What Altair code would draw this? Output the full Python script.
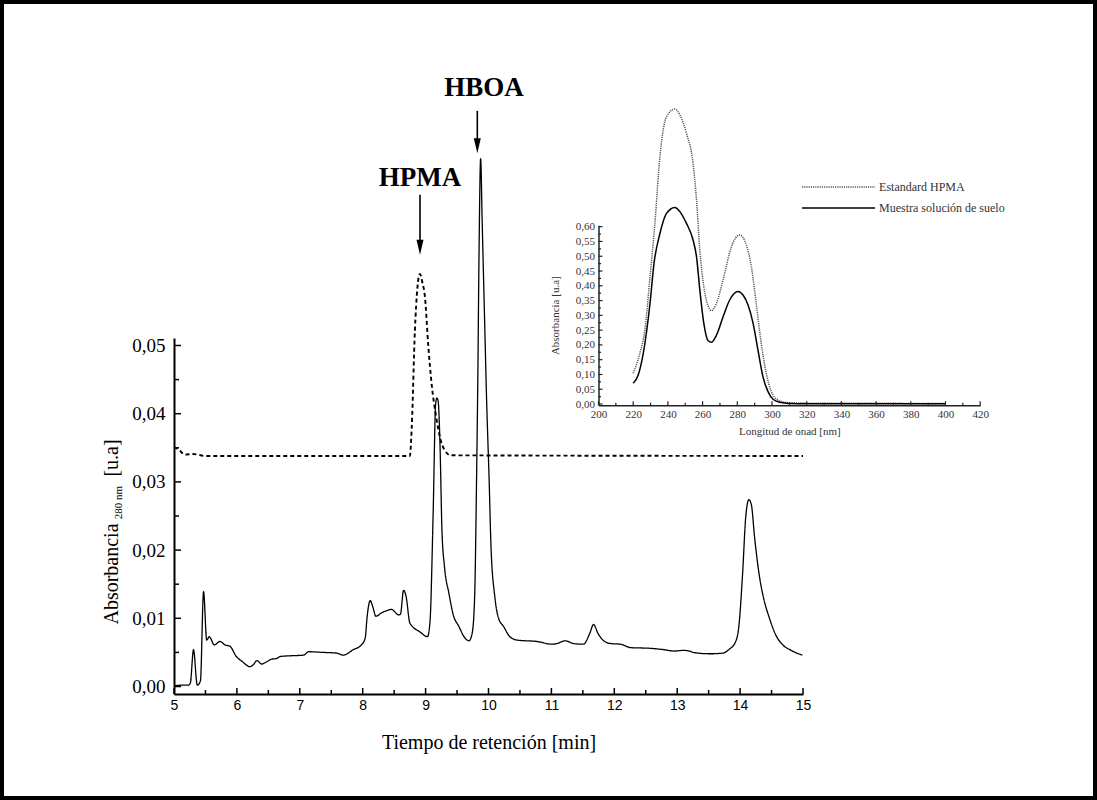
import altair as alt
import pandas as pd

# ---------------- main chromatogram (retention time [min], absorbance 280 nm) -------------
t_sample = [5.00, 5.15, 5.23, 5.26, 5.31, 5.37, 5.42, 5.47, 5.52, 5.56, 5.58, 5.64, 5.73, 5.81,
            5.89, 5.99, 6.08, 6.21, 6.26, 6.32, 6.39, 6.47, 6.55, 6.63, 6.69, 6.84, 7.06, 7.14,
            7.37, 7.59, 7.69, 7.85, 7.98, 8.04, 8.07, 8.12, 8.16, 8.21, 8.30, 8.35, 8.46, 8.57,
            8.60, 8.65, 8.69, 8.75, 8.91, 9.03, 9.07, 9.12, 9.16, 9.18, 9.20, 9.23, 9.26, 9.30,
            9.37, 9.44, 9.53, 9.61, 9.69, 9.74, 9.78, 9.81, 9.83, 9.85, 9.875, 9.90, 9.94, 9.97,
            10.01, 10.04, 10.10, 10.16, 10.24, 10.34, 10.46, 10.77, 11.01, 11.09, 11.22, 11.35,
            11.51, 11.61, 11.67, 11.74, 11.82, 11.94, 12.10, 12.26, 12.57, 12.79, 12.95, 13.11,
            13.32, 13.53, 13.73, 13.82, 13.93, 13.98, 14.04, 14.09, 14.14, 14.18, 14.23, 14.30,
            14.38, 14.46, 14.57, 14.68, 14.81, 14.99]
a_sample = [0.0001, 0.0002, 0.0002, 0.0005, 0.0054, 0.0002, 0.0008, 0.0139, 0.0068, 0.0073,
            0.0071, 0.0061, 0.0066, 0.0061, 0.0059, 0.0044, 0.0037, 0.0029, 0.0032, 0.0038,
            0.0033, 0.0036, 0.0040, 0.0041, 0.0044, 0.0045, 0.0046, 0.0051, 0.0050, 0.0049,
            0.0046, 0.0054, 0.0061, 0.0071, 0.0102, 0.0126, 0.0117, 0.0103, 0.0108, 0.0110,
            0.0113, 0.0105, 0.0106, 0.0141, 0.0132, 0.0093, 0.0080, 0.0073, 0.0095, 0.0254,
            0.0415, 0.0423, 0.0418, 0.0351, 0.0229, 0.0176, 0.0137, 0.0105, 0.0088, 0.0073,
            0.0067, 0.0078, 0.0132, 0.0303, 0.0450, 0.0640, 0.0774, 0.0680, 0.0530, 0.0420,
            0.0303, 0.0205, 0.0132, 0.0100, 0.0088, 0.0073, 0.0068, 0.0066, 0.0062, 0.0063,
            0.0067, 0.0063, 0.0062, 0.0078, 0.0091, 0.0078, 0.0068, 0.0063, 0.0062, 0.0057,
            0.0056, 0.0054, 0.0052, 0.0053, 0.0049, 0.0048, 0.0049, 0.0054, 0.0066, 0.0088,
            0.0166, 0.0249, 0.0274, 0.0266, 0.0219, 0.0166, 0.0127, 0.0102, 0.0075, 0.0061,
            0.0053, 0.0046]

t_std = [5.00, 5.08, 5.17, 5.30, 5.50, 8.75, 8.78, 8.83, 8.87, 8.91, 8.95, 8.99, 9.04, 9.10,
         9.16, 9.24, 9.30, 9.40, 15.00]
a_std = [0.0351, 0.0347, 0.0340, 0.0341, 0.0338, 0.0338, 0.0381, 0.0522, 0.0585, 0.0605,
         0.0592, 0.0571, 0.0503, 0.0440, 0.0400, 0.0361, 0.0347, 0.0339, 0.0338]

main_x_ticks = [5, 6, 7, 8, 9, 10, 11, 12, 13, 14, 15]
main_x_minor = [5.5, 6.5, 7.5, 8.5, 9.5, 10.5, 11.5, 12.5, 13.5, 14.5]
main_y_ticks = [0.0, 0.01, 0.02, 0.03, 0.04, 0.05]
main_y_minor = [0.005, 0.015, 0.025, 0.035, 0.045]

peak_names = ["HPMA", "HBOA"]
peak_label_t = [8.911, 9.93]
peak_label_a = [0.0746, 0.0878]
arrow_t = [8.911, 9.822]
arrow_top = [0.0721, 0.0844]
arrow_tip = [0.0633, 0.0782]
arrow_shaft_end = [0.0652, 0.0798]

# ---------------- inset: UV spectra (wavelength [nm], absorbance) ----------------
wl_std = [220, 223.8, 226.7, 229.7, 232.5, 235.4, 239.2, 244, 246.9, 250.7, 254.5, 256.5,
          258.4, 260.7, 263.8, 265.1, 268, 271.8, 276.6, 281.3, 285.2, 288.1, 290.9, 293.8,
          296.7, 299.6, 303.4, 308.2, 320, 340, 360, 380, 400]
ab_std = [0.104, 0.171, 0.250, 0.431, 0.611, 0.837, 0.972, 0.998, 0.978, 0.916, 0.814, 0.690,
          0.521, 0.397, 0.324, 0.316, 0.341, 0.420, 0.532, 0.572, 0.538, 0.465, 0.341, 0.205,
          0.104, 0.042, 0.014, 0.005, 0.003, 0.003, 0.003, 0.002, 0.002]
wl_sample = [220, 222.9, 225.8, 229.7, 232, 235.4, 239.2, 244, 246.9, 250.7, 254.5, 256.5,
             258.4, 260.7, 263.2, 265.1, 268, 271.8, 275.6, 280.4, 283.3, 286.2, 289.1, 291.9,
             294.8, 297.7, 300.6, 304.4, 310.2, 320, 340, 360, 380, 400]
ab_sample = [0.070, 0.098, 0.171, 0.341, 0.476, 0.577, 0.645, 0.665, 0.651, 0.611, 0.555, 0.498,
             0.386, 0.273, 0.214, 0.209, 0.233, 0.295, 0.352, 0.381, 0.369, 0.335, 0.273, 0.183,
             0.092, 0.042, 0.016, 0.006, 0.002, 0.001, 0.001, 0.001, 0.001, 0.001]

inset_x_ticks = [200, 220, 240, 260, 280, 300, 320, 340, 360, 380, 400, 420]
inset_x_minor = [210, 230, 250, 270, 290, 310, 330, 350, 370, 390, 410]
inset_y_ticks = [0.0, 0.05, 0.10, 0.15, 0.20, 0.25, 0.30, 0.35, 0.40, 0.45, 0.50, 0.55, 0.60]
inset_y_minor = [0.025, 0.075, 0.125, 0.175, 0.225, 0.275, 0.325, 0.375, 0.425, 0.475, 0.525, 0.575]

legend_names = ["Estandard HPMA", "Muestra solución de suelo"]
legend_y = [0.734, 0.663]
legend_x1 = 317.3
legend_x2 = 359.4
legend_text_x = 361.7

# ---------------- layout ----------------
W, H = 629, 356
PAD = {"left": 174, "top": 338, "right": 294, "bottom": 106}
SERIF = "Liberation Serif"
SANS = "Liberation Sans"
comma2 = "replace(format(datum.value, '.2f'), '.', ',')"


def MX():
    return alt.Scale(domain=[5, 15], nice=False, zero=False)


def MY():
    return alt.Scale(domain=[-0.0011, 0.0511], nice=False, zero=False)


# inset placed via its own scale ranges (pixels relative to main plot origin)
IX_R = [424.5, 806.2]
IY_R = [67.2, -112.8]


def IX():
    return alt.Scale(domain=[200, 420], range=IX_R, nice=False, zero=False)


def IY():
    return alt.Scale(domain=[-0.004, 0.605], range=IY_R, nice=False, zero=False)


df_main = pd.concat([
    pd.DataFrame({"t": t_sample, "a": a_sample, "s": "Muestra"}),
    pd.DataFrame({"t": t_std, "a": a_std, "s": "Estandard"}),
])

x_axis = alt.Axis(orient="bottom", values=main_x_ticks, ticks=False, grid=False, domainColor="black",
                  domainWidth=2, labelFont=SANS, labelFontSize=14, labelColor="black",
                  labelPadding=4, labelFlush=False, labelOverlap=False,
                  title="Tiempo de retención [min]", titleFont=SERIF, titleFontSize=20,
                  titleFontWeight="normal", titleColor="black", titlePadding=20)
y_axis = alt.Axis(orient="left", values=main_y_ticks, ticks=False, grid=False, domainColor="black",
                  domainWidth=2, labelFont=SERIF, labelFontSize=19, labelColor="black",
                  labelPadding=9, labelFlush=False, labelOverlap=False, labelExpr=comma2,
                  title=None)

lines = alt.Chart(df_main).mark_line(color="black", interpolate="monotone").encode(
    x=alt.X("t:Q", scale=MX(), axis=x_axis),
    y=alt.Y("a:Q", scale=MY(), axis=y_axis),
    detail="s:N",
    strokeDash=alt.StrokeDash("s:N", scale=alt.Scale(domain=["Muestra", "Estandard"],
                                                     range=[[1, 0], [4, 3]]), legend=None),
    strokeWidth=alt.StrokeWidth("s:N", scale=alt.Scale(domain=["Muestra", "Estandard"],
                                                       range=[1.3, 1.9]), legend=None),
)

mxt = alt.Chart(pd.DataFrame({"t": main_x_ticks})).mark_rule(color="black", strokeWidth=1.5).encode(
    x=alt.X("t:Q", scale=MX(), axis=None), y=alt.value(H), y2=alt.value(H - 6))
mxm = alt.Chart(pd.DataFrame({"t": main_x_minor})).mark_rule(color="black", strokeWidth=1.5).encode(
    x=alt.X("t:Q", scale=MX(), axis=None), y=alt.value(H), y2=alt.value(H - 4))
myt = alt.Chart(pd.DataFrame({"a": main_y_ticks})).mark_rule(color="black", strokeWidth=1.5).encode(
    y=alt.Y("a:Q", scale=MY(), axis=None), x=alt.value(0), x2=alt.value(7))
mym = alt.Chart(pd.DataFrame({"a": main_y_minor})).mark_rule(color="black", strokeWidth=1.5).encode(
    y=alt.Y("a:Q", scale=MY(), axis=None), x=alt.value(0), x2=alt.value(5))

peak_labels = alt.Chart(pd.DataFrame({"name": peak_names, "t": peak_label_t, "a": peak_label_a})).mark_text(
    font=SERIF, fontWeight="bold", fontSize=27, color="black", align="center", baseline="middle").encode(
    x=alt.X("t:Q", scale=MX(), axis=None), y=alt.Y("a:Q", scale=MY(), axis=None), text="name:N")
shafts = alt.Chart(pd.DataFrame({"t": arrow_t, "a1": arrow_top, "a2": arrow_shaft_end})).mark_rule(
    color="black", strokeWidth=1.6).encode(
    x=alt.X("t:Q", scale=MX(), axis=None), y=alt.Y("a1:Q", scale=MY(), axis=None), y2="a2:Q")
heads = alt.Chart(pd.DataFrame({"t": arrow_t, "a": arrow_tip})).mark_point(
    shape="M-1,-4.3L1,-4.3L0,0Z", filled=True, size=49, color="black", opacity=1).encode(
    x=alt.X("t:Q", scale=MX(), axis=None), y=alt.Y("a:Q", scale=MY(), axis=None))

ytitle_df = pd.DataFrame({"k": [0]})
yt1 = alt.Chart(ytitle_df).mark_text(text="Absorbancia", font=SERIF, fontSize=20, angle=270,
                                     align="center", baseline="middle", color="black").encode(
    x=alt.value(-62), y=alt.value(236))
yt2 = alt.Chart(ytitle_df).mark_text(text="280 nm", font=SERIF, fontSize=11, angle=270,
                                     align="center", baseline="middle", color="black").encode(
    x=alt.value(-55.5), y=alt.value(164.5))
yt3 = alt.Chart(ytitle_df).mark_text(text="[u.a]", font=SERIF, fontSize=20, angle=270,
                                     align="center", baseline="middle", color="black").encode(
    x=alt.value(-62), y=alt.value(120))

frame = alt.Chart(ytitle_df).mark_rect(filled=False, stroke="black", strokeWidth=4).encode(
    x=alt.value(-172), x2=alt.value(921), y=alt.value(-336), y2=alt.value(460))

# ---------------- inset ----------------
ix_axis = alt.Axis(orient="bottom", values=inset_x_ticks, ticks=False, grid=False,
                   offset=-(H - IY_R[0]),
                   domainColor="#222222", domainWidth=1.5, labelFont=SERIF, labelFontSize=11,
                   labelColor="#333333", labelPadding=3, labelFlush=False, labelOverlap=False,
                   title="Longitud de onad [nm]", titleFont=SERIF, titleFontSize=11,
                   titleFontWeight="normal", titleColor="#333333", titlePadding=6)
iy_axis = alt.Axis(orient="left", values=inset_y_ticks, ticks=False, grid=False, offset=-IX_R[0],
                   domainColor="#222222", domainWidth=1.5, labelFont=SERIF, labelFontSize=11,
                   labelColor="#333333", labelPadding=4, labelFlush=False, labelOverlap=False,
                   labelExpr=comma2, title="Absorbancia [u.a]", titleFont=SERIF, titleFontSize=11,
                   titleFontWeight="normal", titleColor="#333333", titlePadding=15)

spec_std = alt.Chart(pd.DataFrame({"wl": wl_std, "ab": ab_std})).mark_line(
    color="#555555", strokeWidth=1.5, strokeDash=[1.2, 1], interpolate="monotone").encode(
    x=alt.X("wl:Q", scale=IX(), axis=ix_axis), y=alt.Y("ab:Q", scale=IY(), axis=iy_axis))
spec_sample = alt.Chart(pd.DataFrame({"wl": wl_sample, "ab": ab_sample})).mark_line(
    color="black", strokeWidth=1.5, interpolate="monotone").encode(
    x=alt.X("wl:Q", scale=IX(), axis=None), y=alt.Y("ab:Q", scale=IY(), axis=None))

ixt = alt.Chart(pd.DataFrame({"wl": inset_x_ticks})).mark_rule(color="#222222", strokeWidth=1.2).encode(
    x=alt.X("wl:Q", scale=IX(), axis=None), y=alt.value(IY_R[0]), y2=alt.value(IY_R[0] - 4))
ixm = alt.Chart(pd.DataFrame({"wl": inset_x_minor})).mark_rule(color="#222222", strokeWidth=1.2).encode(
    x=alt.X("wl:Q", scale=IX(), axis=None), y=alt.value(IY_R[0]), y2=alt.value(IY_R[0] - 2.5))
iyt = alt.Chart(pd.DataFrame({"ab": inset_y_ticks})).mark_rule(color="#222222", strokeWidth=1.2).encode(
    y=alt.Y("ab:Q", scale=IY(), axis=None), x=alt.value(IX_R[0]), x2=alt.value(IX_R[0] + 4))
iym = alt.Chart(pd.DataFrame({"ab": inset_y_minor})).mark_rule(color="#222222", strokeWidth=1.2).encode(
    y=alt.Y("ab:Q", scale=IY(), axis=None), x=alt.value(IX_R[0]), x2=alt.value(IX_R[0] + 2.5))

leg_df = pd.DataFrame({"name": legend_names, "y": legend_y, "x1": legend_x1, "x2": legend_x2,
                       "xt": legend_text_x})
leg_std = alt.Chart(leg_df.iloc[[0]]).mark_rule(color="#555555", strokeWidth=1.5,
                                                 strokeDash=[1.2, 1]).encode(
    x=alt.X("x1:Q", scale=IX(), axis=None), x2="x2:Q", y=alt.Y("y:Q", scale=IY(), axis=None))
leg_sample = alt.Chart(leg_df.iloc[[1]]).mark_rule(color="black", strokeWidth=1.5).encode(
    x=alt.X("x1:Q", scale=IX(), axis=None), x2="x2:Q", y=alt.Y("y:Q", scale=IY(), axis=None))
leg_text = alt.Chart(leg_df).mark_text(font=SERIF, fontSize=12, color="#333333", align="left",
                                       baseline="middle").encode(
    x=alt.X("xt:Q", scale=IX(), axis=None), y=alt.Y("y:Q", scale=IY(), axis=None), text="name:N")

chart = alt.layer(
    frame, lines, mxt, mxm, myt, mym, peak_labels, shafts, heads, yt1, yt2, yt3,
    spec_std, spec_sample, ixt, ixm, iyt, iym, leg_std, leg_sample, leg_text,
).resolve_scale(x="independent", y="independent").properties(
    width=W, height=H, padding=PAD, autosize=alt.AutoSizeParams(type="none"),
    background="white").configure_view(stroke=None)

chart.save("out.html", embed_options={"renderer": "svg", "actions": False})
